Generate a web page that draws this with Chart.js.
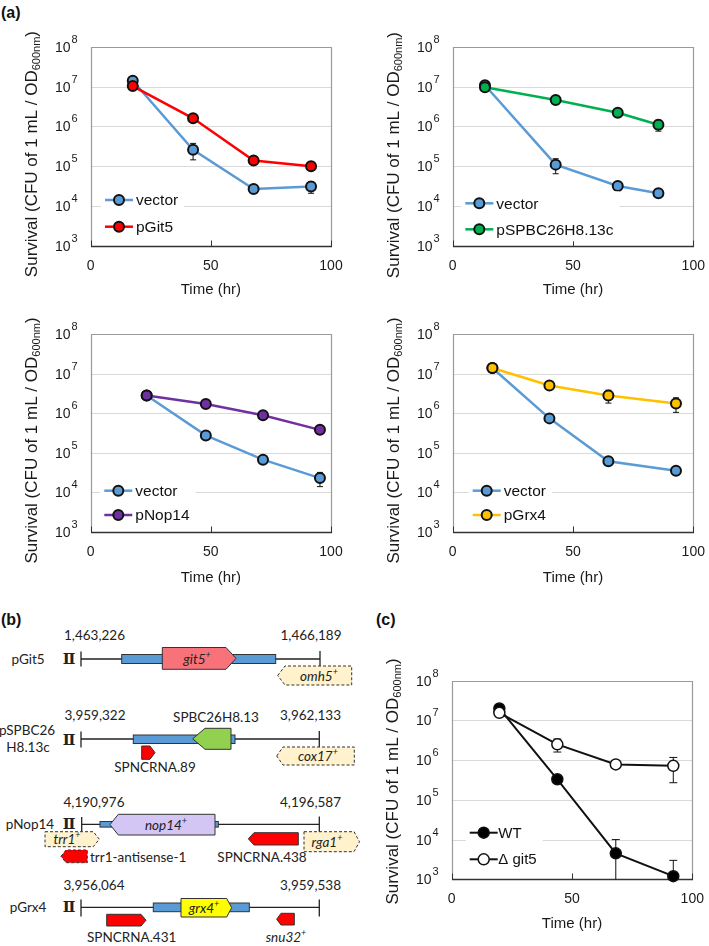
<!DOCTYPE html>
<html><head><meta charset="utf-8">
<script src="https://cdn.jsdelivr.net/npm/chart.js@4.4.1/dist/chart.umd.min.js"></script>
<style>
html,body{margin:0;padding:0;background:#fff;}
#fig{position:relative;width:709px;height:946px;overflow:hidden;background:#fff;}
canvas{position:absolute;}
.plabel{position:absolute;font:bold 16px "Liberation Sans",Arial,sans-serif;color:#111;line-height:18px;}
#genes{position:absolute;left:0;top:600px;}
#genes text{font-family:Lato,"Liberation Sans",sans-serif;font-size:13.5px;fill:#222;dominant-baseline:central;text-anchor:middle;}
#genes .it{font-style:italic;}
#genes .rn{font-family:"DejaVu Serif",serif;font-size:15px;font-weight:bold;}
#genes .st{text-anchor:start;}
</style></head><body>
<div id="fig">
<div class="plabel" style="left:1px;top:4px">(a)</div>
<div class="plabel" style="left:1px;top:611px">(b)</div>
<div class="plabel" style="left:376px;top:611px">(c)</div>
<canvas id="cA1" width="350" height="280" style="left:0;top:20px"></canvas>
<canvas id="cA2" width="359" height="280" style="left:350px;top:20px"></canvas>
<canvas id="cA3" width="350" height="300" style="left:0;top:300px"></canvas>
<canvas id="cA4" width="359" height="300" style="left:350px;top:300px"></canvas>
<canvas id="cC" width="349" height="306" style="left:360px;top:640px"></canvas>

<svg id="genes" width="360" height="346" viewBox="0 600 360 346">
 <g stroke="#333" stroke-width="1">
  <!-- row 1 pGit5 -->
  <path d="M81 651.5V666.5M81 659H320M320 651V667" fill="none" stroke="#222" stroke-width="1.3"/>
  <rect x="121.7" y="654.5" width="154" height="9" fill="#5B9BD5"/>
  <polygon points="162.3,647.5 226,647.5 236,658.4 226,669.3 162.3,669.3" fill="#F8727A"/>
  <polygon points="277.7,675.5 285,666 351.7,666 351.7,685 285,685" fill="#FFF2CC" stroke-dasharray="3 2"/>
  <!-- row 2 -->
  <path d="M81 731.5V747.5M81 739H319.3M319.3 731V747" fill="none" stroke="#222" stroke-width="1.3"/>
  <rect x="133.3" y="735" width="101.7" height="8.5" fill="#5B9BD5"/>
  <polygon points="192.7,738.8 205,728.3 231,728.3 231,749.3 205,749.3" fill="#92D050"/>
  <polygon points="141.7,746 150,746 155,752.7 150,759.3 141.7,759.3" fill="#FF0000"/>
  <polygon points="276.7,756 283,747 354.3,747 354.3,765 283,765" fill="#FFF2CC" stroke-dasharray="3 2"/>
  <!-- row 3 -->
  <path d="M81.7 817V831.5M81.7 824.3H319.3M319.3 816.5V832" fill="none" stroke="#222" stroke-width="1.3"/>
  <rect x="100" y="821.5" width="12" height="5.6" fill="#5B9BD5"/>
  <rect x="213" y="821.5" width="5.3" height="5.6" fill="#5B9BD5"/>
  <polygon points="110,824.6 118.3,814.3 215,814.3 215,835 118.3,835" fill="#D3C5F4"/>
  <polygon points="45,831.7 93.3,831.7 99.3,839.2 93.3,846.7 45,846.7" fill="#FFF2CC" stroke-dasharray="3 2"/>
  <polygon points="61,856.3 66,850 87.3,850 87.3,862.7 66,862.7" fill="#FF0000" stroke-dasharray="3 2"/>
  <polygon points="248.3,838.8 254,832.7 298.3,832.7 298.3,845 254,845" fill="#FF0000"/>
  <polygon points="304,831.7 354,831.7 359.5,841.7 354,851.7 304,851.7" fill="#FFF2CC" stroke-dasharray="3 2"/>
  <!-- row 4 -->
  <path d="M81 899.5V916.5M81 907.3H319.3M319.3 899.5V916.5" fill="none" stroke="#222" stroke-width="1.3"/>
  <rect x="153.3" y="903" width="96" height="8.7" fill="#5B9BD5"/>
  <polygon points="181,898.5 226.7,898.5 231.7,907.7 226.7,917 181,917" fill="#FFFF00"/>
  <polygon points="106.7,914.3 141,914.3 146,920.2 141,926 106.7,926" fill="#FF0000"/>
  <polygon points="276.7,919.2 281,913.3 294.3,913.3 294.3,925 281,925" fill="#FF0000"/>
 </g>
 <!-- labels -->
 <text x="94.5" y="635">1,463,226</text>
 <text x="311" y="635">1,466,189</text>
 <text x="28" y="659">pGit5</text>
 <text x="69" y="659" class="rn">Ⅱ</text>
 <text x="197" y="659" class="it">git5<tspan dy="-5" font-size="9">+</tspan></text>
 <text x="319" y="676" class="it">omh5<tspan dy="-5" font-size="9">+</tspan></text>

 <text x="95" y="715">3,959,322</text>
 <text x="216" y="717">SPBC26H8.13</text>
 <text x="310.5" y="715">3,962,133</text>
 <text x="27" y="730">pSPBC26</text>
 <text x="28" y="747">H8.13c</text>
 <text x="69" y="740" class="rn">Ⅱ</text>
 <text x="155" y="767">SPNCRNA.89</text>
 <text x="318" y="756" class="it">cox17<tspan dy="-5" font-size="9">+</tspan></text>

 <text x="94" y="801.7">4,190,976</text>
 <text x="310.5" y="801.7">4,196,587</text>
 <text x="30" y="824.3">pNop14</text>
 <text x="69" y="824.3" class="rn">Ⅱ</text>
 <text x="166" y="824.6" class="it">nop14<tspan dy="-5" font-size="9">+</tspan></text>
 <text x="67" y="839.2" class="it">trr1<tspan dy="-5" font-size="9">+</tspan></text>
 <text x="90" y="856.5" class="st">trr1-antisense-1</text>
 <text x="262" y="856.7">SPNCRNA.438</text>
 <text x="327" y="841.7" class="it">rga1<tspan dy="-5" font-size="9">+</tspan></text>

 <text x="94" y="885">3,956,064</text>
 <text x="310.5" y="885">3,959,538</text>
 <text x="28" y="907.3">pGrx4</text>
 <text x="69" y="907.3" class="rn">Ⅱ</text>
 <text x="204" y="907.7" class="it">grx4<tspan dy="-5" font-size="9">+</tspan></text>
 <text x="131.7" y="936.7">SPNCRNA.431</text>
 <text x="286" y="937" class="it">snu32<tspan dy="-5" font-size="9">+</tspan></text>
</svg>
</div>

<script>
// ---------- axis ticks ----------
const Y_TICKS = [1e3, 1e4, 1e5, 1e6, 1e7, 1e8];
const Y_TICK_EXP = ['3', '4', '5', '6', '7', '8'];
const X_TICKS = [0, 50, 100];
const X_TICK_LABELS = ['0', '50', '100'];

// ---------- (a) pGit5 ----------
const timeGit5 = [17.5, 42.6, 67.8, 91.7];
const vectorGit5 = [1.40e7, 2.6e5, 2.7e4, 3.1e4];
const vectorGit5Sd = [2.0e6, 1.15e5, 3.0e3, 1.0e4];
const pGit5 = [1.03e7, 1.6e6, 1.4e5, 1.0e5];
const pGit5Sd = [1.0e6, 2.0e5, 2.0e4, 1.0e4];

// ---------- (a) pSPBC26H8.13c ----------
const timeSPBC = [13.4, 42.8, 68.6, 85.5];
const vectorSPBC = [1.08e7, 1.1e5, 3.2e4, 2.1e4];
const vectorSPBCSd = [1.0e6, 4.5e4, 4.0e3, 3.0e3];
const pSPBC = [9.6e6, 4.6e6, 2.2e6, 1.1e6];
const pSPBCSd = [1.0e6, 5.0e5, 3.0e5, 3.4e5];

// ---------- (a) pNop14 ----------
const timeNop14 = [23.3, 47.9, 71.7, 95.4];
const vectorNop14 = [2.8e6, 2.75e5, 6.7e4, 2.3e4];
const vectorNop14Sd = [2.0e5, 3.0e4, 8.0e3, 9.0e3];
const pNop14 = [2.8e6, 1.7e6, 8.9e5, 3.8e5];
const pNop14Sd = [2.0e5, 1.5e5, 1.2e5, 4.0e4];

// ---------- (a) pGrx4 ----------
const timeGrx4 = [16.5, 40.2, 64.7, 92.8];
const vectorGrx4 = [1.38e7, 7.4e5, 6.1e4, 3.5e4];
const vectorGrx4Sd = [1.0e6, 8.0e4, 6.0e3, 4.0e3];
const pGrx4 = [1.38e7, 5.0e6, 2.8e6, 1.75e6];
const pGrx4Sd = [1.0e6, 6.0e5, 1.0e6, 7.0e5];

// ---------- (c) WT vs delta git5 ----------
const timeC = [19.8, 43.9, 68.2, 92.1];
const wt = [2.0e7, 3.3e5, 4.5e3, 1.2e3];
const wtSd = [2.0e6, 4.0e4, 5.5e3, 1.8e3];
const dGit5 = [1.55e7, 2.5e6, 7.8e5, 7.2e5];
const dGit5Sd = [1.5e6, 9.0e5, 5.0e4, 4.5e5];

const FONT = '"Liberation Sans", Arial, sans-serif';

function series(label, times, vals, sds, color, o = {}) {
  return {
    label,
    data: times.map((t, i) => ({ x: t, y: vals[i] })),
    sd: sds,
    borderColor: o.line || color,
    backgroundColor: color,
    pointBackgroundColor: color,
    pointBorderColor: '#111',
    pointBorderWidth: o.pbw || 2,
    pointRadius: o.r || 5,
    borderWidth: o.lw || 2.5,
    tension: 0,
    clip: false,
    order: o.order || 0
  };
}

const panelPlugin = {
  id: 'panel',
  beforeDatasetsDraw(chart, args, o) {
    const { ctx, chartArea: a, scales: { x, y } } = chart;
    ctx.save();
    ctx.strokeStyle = '#d9d9d9';
    ctx.lineWidth = 1;
    Y_TICKS.slice(1, -1).forEach(v => {
      const py = Math.round(y.getPixelForValue(v)) + 0.5;
      ctx.beginPath(); ctx.moveTo(a.left, py); ctx.lineTo(a.right, py); ctx.stroke();
    });
    const L = Math.round(a.left) + 0.5, R = Math.round(a.right) + 0.5;
    const T = Math.round(a.top) + 0.5, B = Math.round(a.bottom) + 0.5;
    ctx.strokeStyle = '#9a9a9a';
    ctx.lineWidth = 1.2;
    ctx.beginPath(); ctx.moveTo(L, B); ctx.lineTo(L, T); ctx.lineTo(R, T); ctx.lineTo(R, B); ctx.stroke();
    ctx.strokeStyle = '#333';
    ctx.lineWidth = 1.4;
    ctx.beginPath(); ctx.moveTo(L - 0.5, B); ctx.lineTo(R + 0.5, B); ctx.stroke();
    ctx.lineWidth = 1;
    X_TICKS.forEach(v => {
      const px = Math.round(x.getPixelForValue(v)) + 0.5;
      ctx.beginPath(); ctx.moveTo(px, B); ctx.lineTo(px, B - 6); ctx.stroke();
    });
    ctx.strokeStyle = '#111';
    ctx.lineWidth = 1;
    const cap = o.cap || 3;
    chart.data.datasets.forEach(d => {
      d.data.forEach((p, i) => {
        const e = d.sd[i];
        const px = x.getPixelForValue(p.x);
        let hi = y.getPixelForValue(p.y + e);
        let lo = (p.y - e > 0) ? y.getPixelForValue(p.y - e) : a.bottom;
        let loCap = true;
        if (lo >= a.bottom) { lo = a.bottom; loCap = false; }
        ctx.beginPath();
        ctx.moveTo(px, hi); ctx.lineTo(px, lo);
        ctx.moveTo(px - cap, hi); ctx.lineTo(px + cap, hi);
        if (loCap) { ctx.moveTo(px - cap, lo); ctx.lineTo(px + cap, lo); }
        ctx.stroke();
      });
    });
    ctx.restore();
  },
  afterDatasetsDraw(chart, args, o) {
    const { ctx, chartArea: a } = chart;
    const lg = o.legend;
    ctx.save();
    const mx = a.left + lg.x, y0 = a.top + lg.y;
    ctx.font = lg.font + 'px ' + FONT;
    const ds = chart.data.datasets;
    const tw = Math.max(...ds.map(d => ctx.measureText(d.label).width));
    ctx.fillStyle = '#fff';
    ctx.fillRect(mx - lg.half - 4, y0 - 12, lg.half + 4 + lg.gap + tw + 6, lg.row + 24);
    ds.forEach((d, i) => {
      const yy = y0 + i * lg.row;
      ctx.strokeStyle = d.borderColor;
      ctx.lineWidth = d.borderWidth;
      ctx.beginPath(); ctx.moveTo(mx - lg.half, yy); ctx.lineTo(mx + lg.half, yy); ctx.stroke();
      ctx.beginPath(); ctx.arc(mx, yy, d.pointRadius, 0, Math.PI * 2);
      ctx.fillStyle = d.pointBackgroundColor; ctx.fill();
      ctx.lineWidth = d.pointBorderWidth; ctx.strokeStyle = d.pointBorderColor; ctx.stroke();
      ctx.fillStyle = '#111';
      ctx.textAlign = 'left';
      ctx.textBaseline = 'middle';
      ctx.fillText(d.label, mx + lg.gap, yy + 1);
    });
    ctx.restore();
  },
  afterDraw(chart, args, o) {
    const { ctx, chartArea: a, scales: { x, y } } = chart;
    ctx.save();
    ctx.fillStyle = '#1a1a1a';
    const right = a.left - 13;
    Y_TICKS.forEach((v, i) => {
      const py = y.getPixelForValue(v);
      ctx.font = '11px ' + FONT;
      const ew = ctx.measureText(Y_TICK_EXP[i]).width;
      ctx.textAlign = 'left'; ctx.textBaseline = 'alphabetic';
      ctx.fillText(Y_TICK_EXP[i], right - ew, py - 4);
      ctx.font = '14px ' + FONT;
      ctx.textAlign = 'right';
      ctx.fillText('10', right - ew - 1, py + 5);
    });
    ctx.font = '14px ' + FONT;
    ctx.textAlign = 'center'; ctx.textBaseline = 'alphabetic';
    X_TICKS.forEach((v, i) => {
      ctx.fillText(X_TICK_LABELS[i], x.getPixelForValue(v), a.bottom + 24);
    });
    ctx.font = '15px ' + FONT;
    ctx.fillText('Time (hr)', (a.left + a.right) / 2, a.bottom + o.xTitleDy + 5.5);
    ctx.translate(a.left - 60, (a.top + a.bottom) / 2 + o.yTitleDy);
    ctx.rotate(-Math.PI / 2);
    const main = 'Survival (CFU of 1 mL / OD', sub = '600nm', end = ')';
    ctx.font = '17px ' + FONT; const w1 = ctx.measureText(main).width, w3 = ctx.measureText(end).width;
    ctx.font = '11px ' + FONT; const w2 = ctx.measureText(sub).width;
    let sx = -(w1 + w2 + w3) / 2;
    ctx.textAlign = 'left'; ctx.textBaseline = 'alphabetic';
    ctx.font = '17px ' + FONT; ctx.fillText(main, sx, 6);
    ctx.font = '11px ' + FONT; ctx.fillText(sub, sx + w1, 9);
    ctx.font = '17px ' + FONT; ctx.fillText(end, sx + w1 + w2, 6);
    ctx.restore();
  }
};

function makeChart(id, pad, datasets, panelOpts) {
  return new Chart(document.getElementById(id), {
    type: 'line',
    data: { datasets },
    options: {
      responsive: false,
      animation: false,
      devicePixelRatio: 1,
      layout: { padding: pad },
      scales: {
        x: { type: 'linear', min: 0, max: 100, display: false },
        y: { type: 'logarithmic', min: 1e3, max: 1e8, display: false }
      },
      plugins: { legend: { display: false }, tooltip: { enabled: false }, panel: panelOpts }
    },
    plugins: [panelPlugin]
  });
}

const BLUE = '#5B9BD5';
const legA = (x, y, row) => ({ x, y, row, half: 14, gap: 17, font: 15.5 });

makeChart('cA1', { left: 90.7, top: 26.7, right: 19, bottom: 54 }, [
  series('vector', timeGit5, vectorGit5, vectorGit5Sd, BLUE, { order: 1 }),
  series('pGit5', timeGit5, pGit5, pGit5Sd, '#FF0000', { order: 0 })
], { legend: legA(28.3, 153.3, 26.7), xTitleDy: 42, yTitleDy: 7.7 });

makeChart('cA2', { left: 102.7, top: 26.7, right: 15.7, bottom: 54 }, [
  series('vector', timeSPBC, vectorSPBC, vectorSPBCSd, BLUE, { order: 1 }),
  series('pSPBC26H8.13c', timeSPBC, pSPBC, pSPBCSd, '#00B050', { order: 0 })
], { legend: legA(26.6, 156.6, 26), xTitleDy: 42, yTitleDy: 8.7 });

makeChart('cA3', { left: 90.7, top: 34, right: 19, bottom: 68 }, [
  series('vector', timeNop14, vectorNop14, vectorNop14Sd, BLUE, { order: 1 }),
  series('pNop14', timeNop14, pNop14, pNop14Sd, '#7030A0', { order: 0 })
], { legend: legA(27.6, 156.7, 24.3), xTitleDy: 44, yTitleDy: 7.5 });

makeChart('cA4', { left: 102.7, top: 34, right: 15.7, bottom: 68 }, [
  series('vector', timeGrx4, vectorGrx4, vectorGrx4Sd, BLUE, { order: 1 }),
  series('pGrx4', timeGrx4, pGrx4, pGrx4Sd, '#FFC000', { order: 0 })
], { legend: legA(34, 156.7, 24.3), xTitleDy: 44, yTitleDy: 7.5 });

makeChart('cC', { left: 91.7, top: 40.7, right: 16.7, bottom: 66.7 }, [
  series('WT', timeC, wt, wtSd, '#000000', { order: 1, r: 5.5, pbw: 1.5, lw: 2, line: '#111' }),
  series('Δ git5', timeC, dGit5, dGit5Sd, '#FFFFFF', { order: 0, r: 5.5, pbw: 1.5, lw: 2, line: '#111' })
], { legend: { x: 32, y: 152, row: 26.6, half: 14, gap: 14.6, font: 15 }, xTitleDy: 43.4, yTitleDy: 1.5, cap: 4 });
</script>
</body></html>
